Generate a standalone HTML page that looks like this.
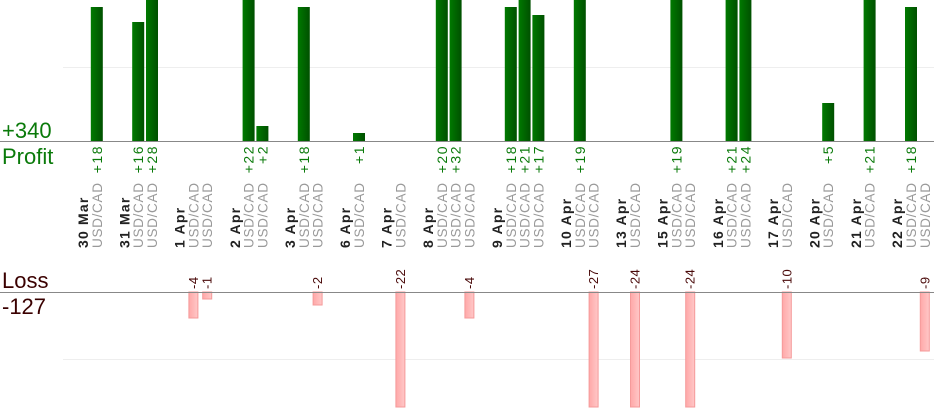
<!DOCTYPE html>
<html><head><meta charset="utf-8"><style>
html,body{margin:0;padding:0;background:#fff;}
svg{display:block;font-family:"Liberation Sans",sans-serif;}
.pv{fill:#0a7a0a;font-size:14px;text-anchor:end;letter-spacing:1.5px;}
.lv{fill:#4a0a0a;font-size:13px;text-anchor:start;letter-spacing:0.5px;}
.dt{fill:#222;font-size:14px;font-weight:bold;text-anchor:start;letter-spacing:1.2px;}
.cc{fill:#999;font-size:13.5px;text-anchor:start;letter-spacing:0.7px;}
</style></head><body>
<svg width="934" height="420" viewBox="0 0 934 420" xmlns="http://www.w3.org/2000/svg">
<defs>
<linearGradient id="g" x1="0" x2="1" y1="0" y2="0"><stop offset="0" stop-color="#007a00"/><stop offset="1" stop-color="#005000"/></linearGradient>
<linearGradient id="r" x1="0" x2="1" y1="0" y2="0"><stop offset="0" stop-color="#ffa8a8"/><stop offset="1" stop-color="#ffc8c8"/></linearGradient>
</defs>
<line x1="63" y1="67.5" x2="934" y2="67.5" stroke="#eee"/>
<line x1="63" y1="359.5" x2="934" y2="359.5" stroke="#eee"/>
<g fill="url(#g)">
<rect x="90.8" y="7" width="12" height="134"/>
<rect x="132.2" y="22" width="12" height="119"/>
<rect x="146" y="0" width="12" height="141"/>
<rect x="242.6" y="0" width="12" height="141"/>
<rect x="256.4" y="126" width="12" height="15"/>
<rect x="297.8" y="7" width="12" height="134"/>
<rect x="353" y="133" width="12" height="8"/>
<rect x="435.8" y="0" width="12" height="141"/>
<rect x="449.6" y="0" width="12" height="141"/>
<rect x="504.8" y="7" width="12" height="134"/>
<rect x="518.6" y="0" width="12" height="141"/>
<rect x="532.4" y="15" width="12" height="126"/>
<rect x="573.8" y="0" width="12" height="141"/>
<rect x="670.4" y="0" width="12" height="141"/>
<rect x="725.6" y="0" width="12" height="141"/>
<rect x="739.4" y="0" width="12" height="141"/>
<rect x="822.2" y="103" width="12" height="38"/>
<rect x="863.6" y="0" width="12" height="141"/>
<rect x="905" y="7" width="12" height="134"/>
</g>
<g fill="url(#r)" stroke="#f59a9a" stroke-width="1">
<rect x="188.9" y="292" width="9" height="26"/>
<rect x="202.7" y="292" width="9" height="7"/>
<rect x="313.1" y="292" width="9" height="13"/>
<rect x="395.9" y="292" width="9" height="115"/>
<rect x="464.9" y="292" width="9" height="26"/>
<rect x="589.1" y="292" width="9" height="115"/>
<rect x="630.5" y="292" width="9" height="115"/>
<rect x="685.7" y="292" width="9" height="115"/>
<rect x="782.3" y="292" width="9" height="66"/>
<rect x="920.3" y="292" width="9" height="59"/>
</g>
<line x1="0" y1="141.5" x2="934" y2="141.5" stroke="#888"/>
<line x1="0" y1="292.5" x2="934" y2="292.5" stroke="#888"/>
<text x="2" y="138" fill="#0a7a0a" font-size="22">+340</text>
<text x="2" y="164" fill="#0a7a0a" font-size="22">Profit</text>
<text x="2" y="288" fill="#3a0000" font-size="22">Loss</text>
<text x="2" y="314" fill="#3a0000" font-size="22">-127</text>
<g class="pv">
<text transform="translate(101.8,145) rotate(-90)">+18</text>
<text transform="translate(143.2,145) rotate(-90)">+16</text>
<text transform="translate(157,145) rotate(-90)">+28</text>
<text transform="translate(253.6,145) rotate(-90)">+22</text>
<text transform="translate(267.4,145) rotate(-90)">+2</text>
<text transform="translate(308.8,145) rotate(-90)">+18</text>
<text transform="translate(364,145) rotate(-90)">+1</text>
<text transform="translate(446.8,145) rotate(-90)">+20</text>
<text transform="translate(460.6,145) rotate(-90)">+32</text>
<text transform="translate(515.8,145) rotate(-90)">+18</text>
<text transform="translate(529.6,145) rotate(-90)">+21</text>
<text transform="translate(543.4,145) rotate(-90)">+17</text>
<text transform="translate(584.8,145) rotate(-90)">+19</text>
<text transform="translate(681.4,145) rotate(-90)">+19</text>
<text transform="translate(736.6,145) rotate(-90)">+21</text>
<text transform="translate(750.4,145) rotate(-90)">+24</text>
<text transform="translate(833.2,145) rotate(-90)">+5</text>
<text transform="translate(874.6,145) rotate(-90)">+21</text>
<text transform="translate(916,145) rotate(-90)">+18</text>
</g>
<g class="lv">
<text transform="translate(197.9,289) rotate(-90)">-4</text>
<text transform="translate(211.7,289) rotate(-90)">-1</text>
<text transform="translate(322.1,289) rotate(-90)">-2</text>
<text transform="translate(404.9,289) rotate(-90)">-22</text>
<text transform="translate(473.9,289) rotate(-90)">-4</text>
<text transform="translate(598.1,289) rotate(-90)">-27</text>
<text transform="translate(639.5,289) rotate(-90)">-24</text>
<text transform="translate(694.7,289) rotate(-90)">-24</text>
<text transform="translate(791.3,289) rotate(-90)">-10</text>
<text transform="translate(929.3,289) rotate(-90)">-9</text>
</g>
<g class="dt">
<text transform="translate(88,248) rotate(-90)">30 Mar</text>
<text transform="translate(129.4,248) rotate(-90)">31 Mar</text>
<text transform="translate(184.6,248) rotate(-90)">1 Apr</text>
<text transform="translate(239.8,248) rotate(-90)">2 Apr</text>
<text transform="translate(295,248) rotate(-90)">3 Apr</text>
<text transform="translate(350.2,248) rotate(-90)">6 Apr</text>
<text transform="translate(391.6,248) rotate(-90)">7 Apr</text>
<text transform="translate(433,248) rotate(-90)">8 Apr</text>
<text transform="translate(502,248) rotate(-90)">9 Apr</text>
<text transform="translate(571,248) rotate(-90)">10 Apr</text>
<text transform="translate(626.2,248) rotate(-90)">13 Apr</text>
<text transform="translate(667.6,248) rotate(-90)">15 Apr</text>
<text transform="translate(722.8,248) rotate(-90)">16 Apr</text>
<text transform="translate(778,248) rotate(-90)">17 Apr</text>
<text transform="translate(819.4,248) rotate(-90)">20 Apr</text>
<text transform="translate(860.8,248) rotate(-90)">21 Apr</text>
<text transform="translate(902.2,248) rotate(-90)">22 Apr</text>
</g>
<g class="cc">
<text transform="translate(101.8,248) rotate(-90)">USD/CAD</text>
<text transform="translate(143.2,248) rotate(-90)">USD/CAD</text>
<text transform="translate(157,248) rotate(-90)">USD/CAD</text>
<text transform="translate(198.4,248) rotate(-90)">USD/CAD</text>
<text transform="translate(212.2,248) rotate(-90)">USD/CAD</text>
<text transform="translate(253.6,248) rotate(-90)">USD/CAD</text>
<text transform="translate(267.4,248) rotate(-90)">USD/CAD</text>
<text transform="translate(308.8,248) rotate(-90)">USD/CAD</text>
<text transform="translate(322.6,248) rotate(-90)">USD/CAD</text>
<text transform="translate(364,248) rotate(-90)">USD/CAD</text>
<text transform="translate(405.4,248) rotate(-90)">USD/CAD</text>
<text transform="translate(446.8,248) rotate(-90)">USD/CAD</text>
<text transform="translate(460.6,248) rotate(-90)">USD/CAD</text>
<text transform="translate(474.4,248) rotate(-90)">USD/CAD</text>
<text transform="translate(515.8,248) rotate(-90)">USD/CAD</text>
<text transform="translate(529.6,248) rotate(-90)">USD/CAD</text>
<text transform="translate(543.4,248) rotate(-90)">USD/CAD</text>
<text transform="translate(584.8,248) rotate(-90)">USD/CAD</text>
<text transform="translate(598.6,248) rotate(-90)">USD/CAD</text>
<text transform="translate(640,248) rotate(-90)">USD/CAD</text>
<text transform="translate(681.4,248) rotate(-90)">USD/CAD</text>
<text transform="translate(695.2,248) rotate(-90)">USD/CAD</text>
<text transform="translate(736.6,248) rotate(-90)">USD/CAD</text>
<text transform="translate(750.4,248) rotate(-90)">USD/CAD</text>
<text transform="translate(791.8,248) rotate(-90)">USD/CAD</text>
<text transform="translate(833.2,248) rotate(-90)">USD/CAD</text>
<text transform="translate(874.6,248) rotate(-90)">USD/CAD</text>
<text transform="translate(916,248) rotate(-90)">USD/CAD</text>
<text transform="translate(929.8,248) rotate(-90)">USD/CAD</text>
</g>
</svg>
</body></html>
